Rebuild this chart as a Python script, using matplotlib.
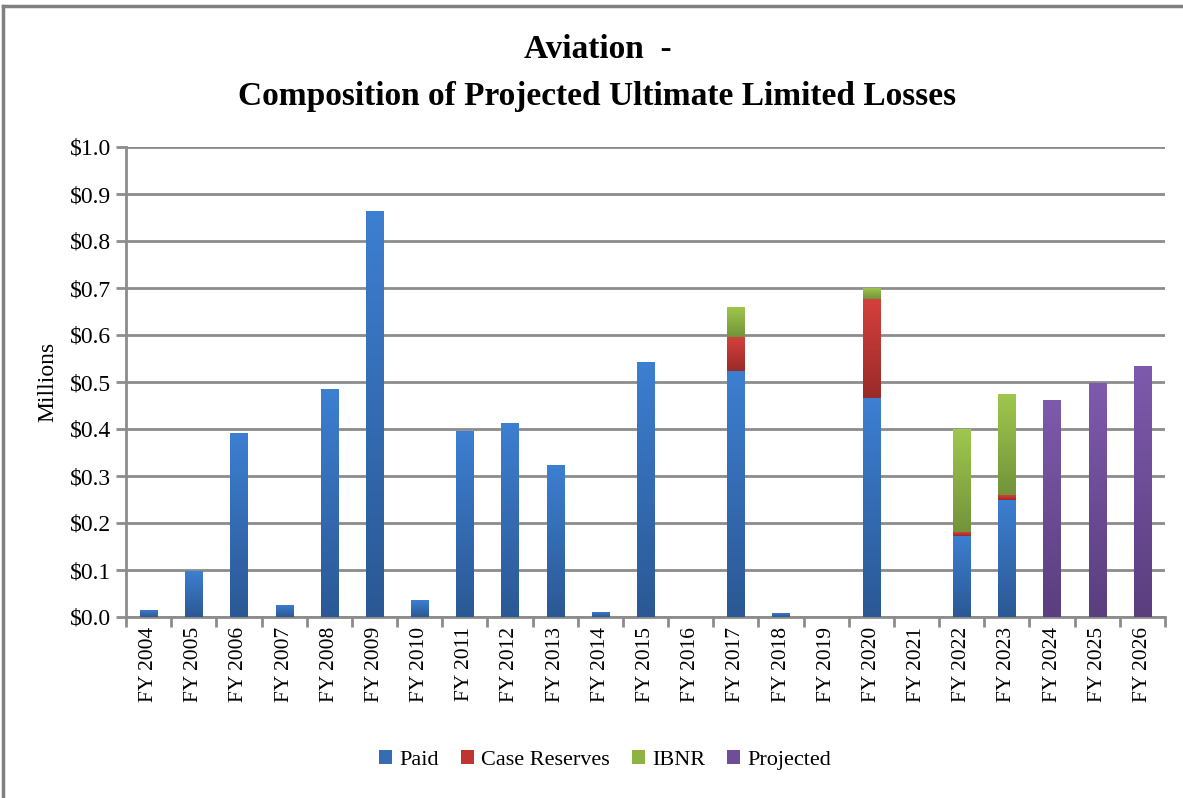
import numpy as np
import matplotlib
matplotlib.use("Agg")
from matplotlib import pyplot as plt
from matplotlib.lines import Line2D
from matplotlib.colors import LinearSegmentedColormap

years = ["FY %d" % y for y in range(2004, 2027)]
paid = [0.015, 0.097, 0.391, 0.026, 0.485, 0.864, 0.036, 0.396, 0.413, 0.323,
        0.011, 0.543, 0.0, 0.524, 0.009, 0.0, 0.467, 0.0, 0.173, 0.249,
        0.0, 0.0, 0.0]
case_reserves = [0, 0, 0, 0, 0, 0, 0, 0, 0, 0,
                 0, 0, 0, 0.071, 0, 0, 0.210, 0, 0.008, 0.010,
                 0, 0, 0]
ibnr = [0, 0, 0, 0, 0, 0, 0, 0, 0, 0,
        0, 0, 0, 0.065, 0, 0, 0.024, 0, 0.220, 0.215,
        0, 0, 0]
projected = [0, 0, 0, 0, 0, 0, 0, 0, 0, 0,
             0, 0, 0, 0, 0, 0, 0, 0, 0, 0,
             0.461, 0.497, 0.534]

# (top colour, bottom colour, legend colour) for the gradient fill
shades = {"Paid": ("#3d7fd1", "#2b5894", "#356cb4"),
          "Case Reserves": ("#d5403d", "#992a28", "#c03532"),
          "IBNR": ("#a0c84d", "#73933a", "#8db443"),
          "Projected": ("#7e5aac", "#5a3e7e", "#6f4e98")}

plt.rcParams['font.family'] = ['Liberation Serif', 'DejaVu Serif']

fig = plt.figure(figsize=(11.83, 7.98), dpi=100)
ax = fig.add_axes([126 / 1183, 1 - 617 / 798, (1165 - 126) / 1183, (617 - 147) / 798])

x = np.arange(len(years))
w = 0.38
bottom = np.zeros(len(years))
grad = np.linspace(0, 1, 256).reshape(-1, 1)
for name, vals in [("Paid", paid), ("Case Reserves", case_reserves),
                   ("IBNR", ibnr), ("Projected", projected)]:
    vals = np.array(vals, dtype=float)
    top_c, bot_c, leg_c = shades[name]
    cmap = LinearSegmentedColormap.from_list(name, [bot_c, top_c])
    bars = ax.bar(x, vals, w, bottom=bottom, color=leg_c, label=name, zorder=3)
    for b in bars:
        if b.get_height() <= 0:
            continue
        x0, y0 = b.get_x(), b.get_y()
        im = ax.imshow(grad, cmap=cmap, origin='lower', aspect='auto',
                       extent=(x0, x0 + b.get_width(), y0, y0 + b.get_height()),
                       zorder=4)
        im.set_clip_path(b)
    bottom += vals

ax.set_xlim(-0.5, len(years) - 0.5)
ax.set_ylim(0, 1.0)
ax.set_yticks(np.arange(0, 1.01, 0.1))
ax.set_yticklabels(["$%.1f" % v for v in np.arange(0, 1.01, 0.1)], fontsize=17)
ax.set_xticks(x)
ax.set_xticklabels(years, rotation=90, fontsize=15.5)
ax.set_xticks(np.arange(-0.5, len(years), 1.0), minor=True)
ax.tick_params(axis='x', which='major', length=0, pad=7)
ax.tick_params(axis='x', which='minor', length=7, width=2, color='#8c8c8c')
ax.tick_params(axis='y', length=7, width=2, color='#8c8c8c', pad=4)

ax.grid(axis='y', color='#8c8c8c', linewidth=2, zorder=0)
for s in ['top', 'right']:
    ax.spines[s].set_visible(False)
for s in ['left', 'bottom']:
    ax.spines[s].set_color('#8c8c8c')
    ax.spines[s].set_linewidth(2)

ax.set_ylabel("Millions", fontsize=17, labelpad=8)

fig.text(0.505, 1 - 50 / 798, "Aviation  -", ha='center', va='center',
         fontsize=24, fontweight='bold')
fig.text(0.505, 1 - 96 / 798, "Composition of Projected Ultimate Limited Losses",
         ha='center', va='center', fontsize=24, fontweight='bold')

ax.legend(loc='center', bbox_to_anchor=((605 - 126) / 1039, (617 - 760) / 470),
          ncol=4, frameon=False, fontsize=16, handlelength=0.6,
          handleheight=0.6, handletextpad=0.3, columnspacing=1.0)

fig.add_artist(Line2D([3 / 1183, 3 / 1183], [0, 1 - 6 / 798], color='#808080',
                      linewidth=2.5, transform=fig.transFigure))
fig.add_artist(Line2D([3 / 1183, 1], [1 - 6 / 798, 1 - 6 / 798], color='#808080',
                      linewidth=2.5, transform=fig.transFigure))

fig.savefig("out.png", dpi=100)
